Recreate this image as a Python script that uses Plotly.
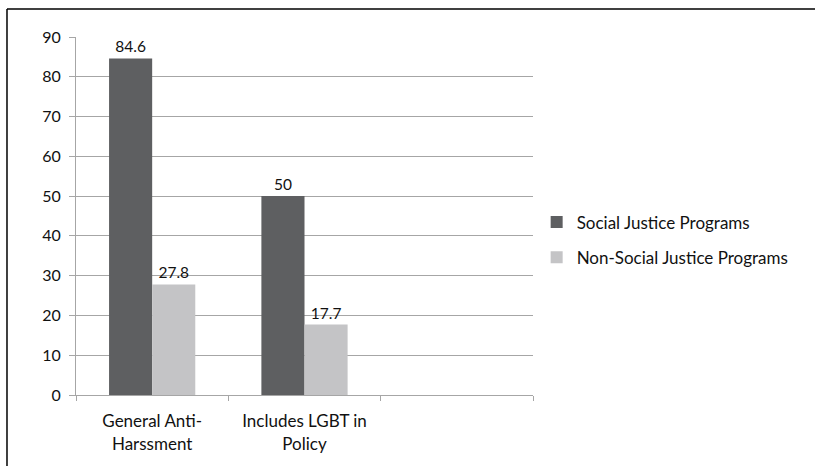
import plotly.graph_objects as go

# Chart data
categories = ["General Anti-<br>Harssment", "Includes LGBT in<br>Policy", " "]
social_justice = [84.6, 50, None]
non_social_justice = [27.8, 17.7, None]
series_names = ["Social Justice Programs", "Non-Social Justice Programs"]
y_ticks = [0, 10, 20, 30, 40, 50, 60, 70, 80, 90]

FONT = "Lato"
GRID = "#a6a6a6"
INK = "#111111"

fig = go.Figure()
fig.add_trace(go.Bar(
    x=categories, y=social_justice, name=series_names[0],
    marker=dict(color="#5e5f61", line=dict(width=0)),
    text=[f"{v:g}" if v is not None else "" for v in social_justice],
    textposition="outside", cliponaxis=False,
    textfont=dict(family=FONT, size=15.5, color=INK),
    legendgroup="a",
))
fig.add_trace(go.Bar(
    x=categories, y=non_social_justice, name=series_names[1],
    marker=dict(color="#c4c4c6", line=dict(width=0)),
    text=[f"{v:g}" if v is not None else "" for v in non_social_justice],
    textposition="outside", cliponaxis=False,
    textfont=dict(family=FONT, size=15.5, color=INK),
    legendgroup="b",
))

fig.update_layout(
    width=815, height=466,
    margin=dict(l=76, r=282, t=37, b=71),
    paper_bgcolor="white", plot_bgcolor="white",
    font=dict(family=FONT, size=15, color=INK),
    barmode="group", bargap=0.434, bargroupgap=0,
    showlegend=True,
    legend=dict(
        x=1.008, xanchor="left", y=0.433, yanchor="middle",
        font=dict(family=FONT, size=17, color=INK),
        tracegroupgap=10, itemclick=False, itemdoubleclick=False,
        bgcolor="rgba(0,0,0,0)",
    ),
    xaxis=dict(
        type="category", tickson="boundaries",
        ticks="outside", ticklen=5, tickcolor=GRID,
        showline=True, linecolor=GRID, linewidth=1,
        showgrid=False, ticklabelstandoff=11,
        tickfont=dict(family=FONT, size=17, color=INK),
    ),
    yaxis=dict(
        range=[0, 90], tickvals=y_ticks,
        ticks="outside", ticklen=6, tickcolor=GRID,
        showline=True, linecolor=GRID, linewidth=1,
        showgrid=True, gridcolor=GRID, gridwidth=1,
        zeroline=False, ticklabelstandoff=5,
        tickfont=dict(family=FONT, size=16, color=INK),
    ),
)

# Outer chart frame (top and left edges)
frame = dict(color="black", width=1.5)
fig.add_shape(type="line", xref="paper", yref="paper",
              x0=-0.151, x1=1.7, y0=1.078, y1=1.078, line=frame)
fig.add_shape(type="line", xref="paper", yref="paper",
              x0=-0.151, x1=-0.151, y0=1.078, y1=-0.25, line=frame)

fig.write_html("out.html")
